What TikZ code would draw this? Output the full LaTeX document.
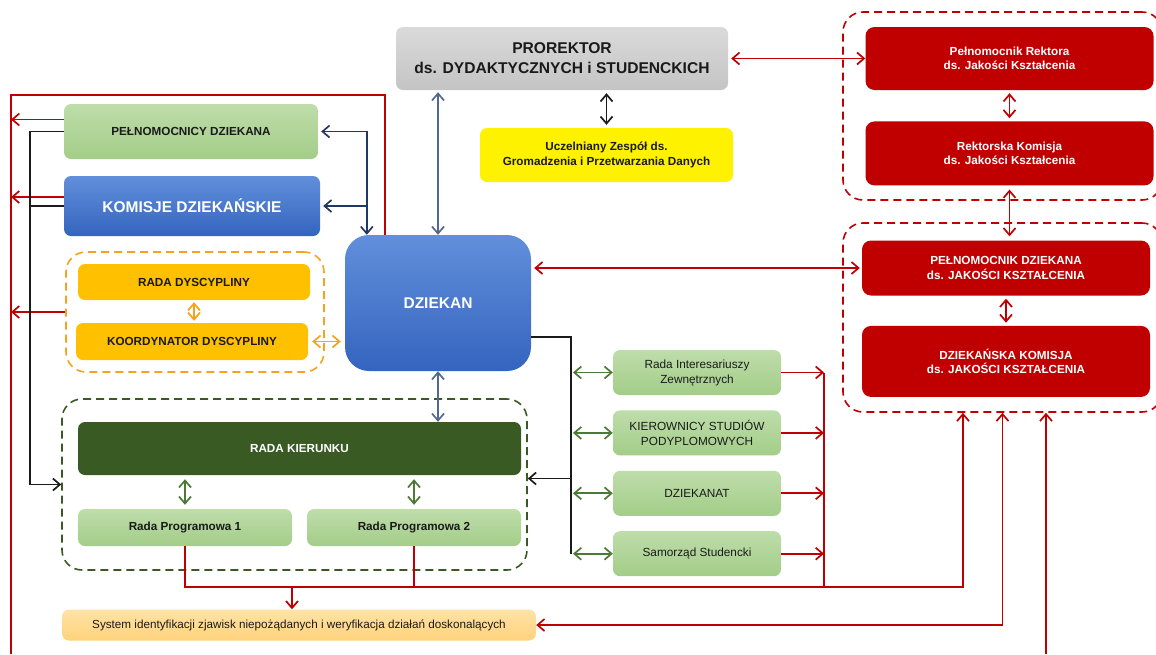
\documentclass[tikz,border=0pt]{standalone}
\usepackage{fontspec}
\setmainfont{Liberation Sans}
\usetikzlibrary{arrows.meta,positioning}
\definecolor{deanred}{HTML}{C00000}
\definecolor{leaf}{HTML}{A3CD88}
\definecolor{leaflt}{HTML}{BEDDAA}
\definecolor{deanblue}{HTML}{3464BF}
\definecolor{deanbluelt}{HTML}{628FDB}
\definecolor{gold}{HTML}{FFC000}
\definecolor{darkolive}{HTML}{3A5A24}
\definecolor{navy}{HTML}{203864}
\definecolor{slate}{HTML}{53688C}
\definecolor{leafgreen}{HTML}{4C7A36}
\definecolor{amber}{HTML}{F7A21E}
\definecolor{ink}{HTML}{1A1A1A}
\definecolor{silver}{HTML}{C4C4C4}
\definecolor{silverlt}{HTML}{DADADA}
\definecolor{peach}{HTML}{FFD27C}
\definecolor{peachlt}{HTML}{FFE3A6}
\tikzset{
  orgbox/.style={
    rounded corners=7pt,
    align=center,
    inner sep=2pt,
    text=ink,
    font=\fontsize{11.7}{14.5}\selectfont\bfseries
  },
  greybox/.style={orgbox, top color=silverlt, bottom color=silver,
    font=\fontsize{15.6}{20}\selectfont\bfseries},
  yellowbox/.style={orgbox, fill=yellow, font=\fontsize{11.7}{15}\selectfont\bfseries},
  greenbox/.style={orgbox, top color=leaflt, bottom color=leaf},
  sidebox/.style={greenbox, minimum width=168pt, minimum height=45pt,
    font=\fontsize{11.8}{15}\selectfont},
  bluebox/.style={orgbox, top color=deanbluelt, bottom color=deanblue, text=white,
    font=\fontsize{15.5}{18}\selectfont\bfseries},
  goldbox/.style={orgbox, fill=gold},
  olivebox/.style={orgbox, fill=darkolive, text=white},
  peachbox/.style={orgbox, top color=peachlt, bottom color=peach,
    font=\fontsize{11.7}{14}\selectfont},
  redbox/.style={orgbox, fill=deanred, text=white, rounded corners=9pt,
    minimum width=288pt},
  dashframe/.style={line width=1.6pt, dash pattern=on 8pt off 5pt,
    rounded corners=20pt},
  feedline/.style={line width=1.7pt, draw=deanred},
  onearrow/.style={line width=1.7pt, -{Straight Barb[length=7pt,width=12pt]}},
  linkarrow/.style={line width=1.7pt,
    {Straight Barb[length=7pt,width=12pt]}-{Straight Barb[length=7pt,width=12pt]}}
}
\begin{document}
\begin{tikzpicture}[x=1pt,y=-1pt]
\useasboundingbox (0,0) rectangle (1156,654);
\node[dashframe, draw=amber, minimum width=258pt, minimum height=120pt] (dyscframe) at (195,312) {};
\node[dashframe, draw=darkolive, minimum width=465pt, minimum height=171pt] (kierframe) at (294.5,484.5) {};
\node[dashframe, draw=deanred, minimum width=319pt, minimum height=188pt] (rektframe) at (1002.5,106) {};
\node[dashframe, draw=deanred, minimum width=319pt, minimum height=189pt] (dziekframe) at (1002.5,317.5) {};
\node[greybox, minimum width=332pt, minimum height=63pt] (prorektor) at (562,58.5) {PROREKTOR\\ds. DYDAKTYCZNYCH i STUDENCKICH};
\node[yellowbox, minimum width=253pt, minimum height=54pt] (zespol) at (606.5,155) {Uczelniany Zespół ds.\\Gromadzenia i Przetwarzania Danych};
\node[greenbox, minimum width=254pt, minimum height=55pt] (pelnomocnicy) at (191,131.5) {PEŁNOMOCNICY DZIEKANA};
\node[bluebox, minimum width=256pt, minimum height=60pt] (komisje) at (192,206) {KOMISJE DZIEKAŃSKIE};
\node[goldbox, minimum width=232pt, minimum height=36pt] (radadysc) at (194,282) {RADA DYSCYPLINY};
\node[goldbox, minimum width=232pt, minimum height=37pt] (koordynator) at (192,341.5) {KOORDYNATOR DYSCYPLINY};
\node[bluebox, rounded corners=24pt, minimum width=186pt, minimum height=136pt] (dziekan) at (438,303) {DZIEKAN};
\node[olivebox, minimum width=443pt, minimum height=53pt] (kierunku) at (299.5,448.5) {RADA KIERUNKU};
\node[greenbox, minimum width=214pt, minimum height=37pt] (program1) at (185,527.5) {Rada Programowa 1};
\node[greenbox, minimum width=214pt, minimum height=37pt] (program2) at (414,527.5) {Rada Programowa 2};
\node[peachbox, minimum width=474pt, minimum height=31pt] (system) at (299,625) {System identyfikacji zjawisk niepożądanych i weryfikacja działań doskonalących};
\node[sidebox] (interes) at (697,372.5) {Rada Interesariuszy\\Zewnętrznych};
\node[sidebox, below=15pt of interes] (kierownicy) {KIEROWNICY STUDIÓW\\PODYPLOMOWYCH};
\node[sidebox, below=15pt of kierownicy] (dziekanat) {DZIEKANAT};
\node[sidebox, below=15pt of dziekanat] (samorzad) {Samorząd Studencki};
\node[redbox, minimum height=63pt] (pelrektora) at (1009.5,58.5) {Pełnomocnik Rektora\\ds. Jakości Kształcenia};
\node[redbox, minimum height=64pt, below=31pt of pelrektora] (rektkomisja) {Rektorska Komisja\\ds. Jakości Kształcenia};
\node[redbox, minimum height=55pt] (peldziekana) at (1006,268) {PEŁNOMOCNIK DZIEKANA\\ds. JAKOŚCI KSZTAŁCENIA};
\node[redbox, minimum height=71pt, below=30pt of peldziekana] (dziekkomisja) {DZIEKAŃSKA KOMISJA\\ds. JAKOŚCI KSZTAŁCENIA};
\coordinate (leftrail) at (11,95);
\coordinate (leftbus) at (30,0);
\coordinate (rightbus) at (571,0);
\coordinate (feedbus) at (824,0);
\coordinate (feedrow) at (0,587);
\coordinate (reportx) at (963,0);
\coordinate (returnx) at (1046,654);
\path ([xshift=40pt]dziekan.north west) coordinate (railtop);
\path ([xshift=22pt]dziekan.north west) coordinate (navytop);
\path ([yshift=12pt]pelnomocnicy.west) coordinate (pelred);
\path ([yshift=9pt]komisje.west) coordinate (komred);
\path ([yshift=-34pt]dziekan.east) coordinate (dzout);
\path ([yshift=6pt]kierframe.east) coordinate (kierin);
\path ([xshift=-7pt]system.north) coordinate (sysin);
\draw[feedline] (railtop) |- (leftrail) -- (leftrail |- 0,654);
\draw[onearrow, deanred] (pelred) -- (pelred -| leftrail);
\draw[onearrow, deanred] (komred) -- (komred -| leftrail);
\draw[onearrow, deanred] (dyscframe.west) -- (dyscframe.west -| leftrail);
\draw[linkarrow, navy, shorten <=3pt] (pelnomocnicy.east) -| (navytop);
\draw[onearrow, navy, shorten >=3pt] (navytop |- komisje.east) -- (komisje.east);
\draw[linkarrow, slate, shorten <=2pt] (dziekan.north |- prorektor.south) -- (dziekan.north);
\draw[linkarrow, slate] (dziekan.south) -- (dziekan.south |- kierunku.north);
\draw[linkarrow, ink, shorten >=3pt, shorten <=3pt] (zespol.north |- prorektor.south) -- (zespol.north);
\draw[linkarrow, deanred, shorten <=3pt] (prorektor.east) -- (pelrektora.west);
\draw[linkarrow, deanred, shorten <=3pt, shorten >=2pt] (dziekan.east |- peldziekana.west) -- (peldziekana.west);
\draw[linkarrow, deanred, shorten >=3pt, shorten <=3pt] (pelrektora.south) -- (rektkomisja.north);
\draw[linkarrow, deanred, shorten >=4pt, shorten <=4pt] (rektkomisja.south) -- (rektkomisja.south |- peldziekana.north);
\draw[linkarrow, deanred, shorten >=3pt, shorten <=3pt] (peldziekana.south) -- (dziekkomisja.north);
\draw[linkarrow, amber, shorten >=2pt, shorten <=2pt] (radadysc.south) -- (radadysc.south |- koordynator.north);
\draw[linkarrow, amber, shorten >=4pt, shorten <=4pt] (koordynator.east) -- (koordynator.east -| dziekan.west);
\draw[linkarrow, leafgreen, shorten >=4pt, shorten <=4pt] (kierunku.south -| program1.north) -- (program1.north);
\draw[linkarrow, leafgreen, shorten >=4pt, shorten <=4pt] (kierunku.south -| program2.north) -- (program2.north);
\draw[onearrow, ink] (pelnomocnicy.west) -| (leftbus |- kierframe.west) -- (kierframe.west);
\draw[line width=1.7pt, ink] (komisje.west) -- (komisje.west -| leftbus);
\draw[line width=1.7pt, ink] (dzout) -| (rightbus |- samorzad.west);
\draw[onearrow, ink] (rightbus |- kierin) -- (kierin);
\foreach \unit in {interes,kierownicy,dziekanat,samorzad}{
  \draw[linkarrow, leafgreen, shorten <=2pt] (rightbus |- \unit.west) -- (\unit.west);
  \draw[onearrow, deanred] (\unit.east) -- (feedbus |- \unit.east);
}
\draw[feedline] (feedbus |- interes.east) -- (feedbus |- feedrow);
\draw[onearrow, deanred] (program1.south) |- (reportx |- feedrow) -- (reportx |- dziekframe.south);
\draw[feedline] (program2.south) -- (program2.south |- feedrow);
\draw[onearrow, deanred] (sysin |- feedrow) -- (sysin);
\draw[linkarrow, deanred] (system.east) -| (dziekframe.south);
\draw[onearrow, deanred] (returnx) -- (returnx |- dziekframe.south);
\end{tikzpicture}
\end{document}
